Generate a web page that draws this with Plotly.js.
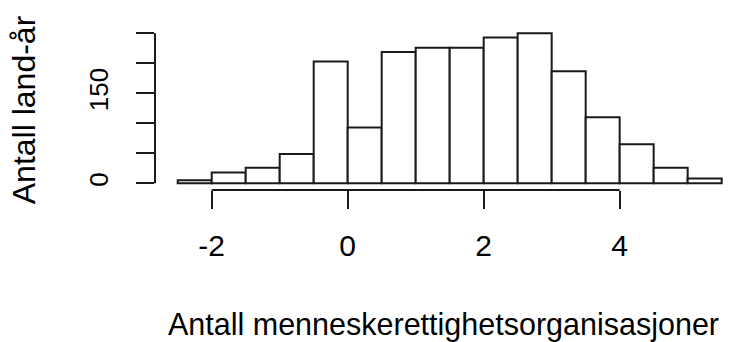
<!DOCTYPE html>
<html>
<head>
<meta charset="utf-8">
<script src="https://cdn.plot.ly/plotly-3.0.1.min.js"></script>
<style>html,body{margin:0;padding:0;background:#fff;}#chart{width:734px;height:342px;}</style>
</head>
<body>
<div id="chart"></div>
<script>
// Histogram bins (midpoints) and counts
var binMids = [-2.25, -1.75, -1.25, -0.75, -0.25, 0.25, 0.75, 1.25, 1.75, 2.25, 2.75, 3.25, 3.75, 4.25, 4.75, 5.25];
var counts  = [5, 18, 26, 49, 203, 93, 219, 226, 226, 243, 250, 187, 110, 65, 26, 8];
var binWidth = 0.5;
var xTickVals = [-2, 0, 2, 4];
var xTickText = ['-2', '0', '2', '4'];
var yTickVals = [0, 50, 100, 150, 200, 250];
var yTickText = ['0', '', '', '150', '', ''];
var xTitle = 'Antall menneskerettighetsorganisasjoner';
var yTitle = 'Antall land-år';

var ink = '#1a1a1a';
var txt = '#000';
var fam = 'Liberation Sans, Arial, sans-serif';

var trace = {
  type: 'bar',
  x: binMids,
  y: counts,
  width: binMids.map(function(){return binWidth;}),
  marker: {color: '#ffffff', line: {color: ink, width: 2}},
  hoverinfo: 'x+y'
};

var layout = {
  width: 734, height: 342,
  margin: {l: 155, r: 2, t: 30, b: 152},
  paper_bgcolor: '#fff', plot_bgcolor: '#fff',
  showlegend: false,
  bargap: 0,
  font: {family: fam, size: 30, color: txt},
  xaxis: {
    range: [-2.834, 5.652],
    tickvals: xTickVals, ticktext: xTickText,
    ticks: 'outside', ticklen: 18, tickwidth: 2, tickcolor: ink,
    ticklabelstandoff: 11,
    showline: false, showgrid: false, zeroline: false,
    tickfont: {family: fam, size: 30, color: txt},
    title: {text: xTitle, font: {family: fam, size: 30.5, color: txt}, standoff: 52},
    automargin: false
  },
  yaxis: {
    range: [-11.1, 255.6],
    tickvals: yTickVals, ticktext: yTickText,
    tickangle: -90,
    ticks: 'outside', ticklen: 18, tickwidth: 2, tickcolor: ink,
    ticklabelstandoff: 18,
    showline: false, showgrid: false, zeroline: false,
    tickfont: {family: fam, size: 26, color: txt},
    title: {text: yTitle, font: {family: fam, size: 32, color: txt}, standoff: 38},
    automargin: false
  },
  shapes: [
    {type: 'line', xref: 'x', yref: 'paper', x0: xTickVals[0], x1: xTickVals[xTickVals.length-1], y0: 0, y1: 0, line: {color: ink, width: 2}},
    {type: 'line', xref: 'paper', yref: 'y', x0: 0, x1: 0, y0: yTickVals[0], y1: yTickVals[yTickVals.length-1], line: {color: ink, width: 2}}
  ]
};

Plotly.newPlot('chart', [trace], layout, {displayModeBar: false, staticPlot: true});
</script>
</body>
</html>
